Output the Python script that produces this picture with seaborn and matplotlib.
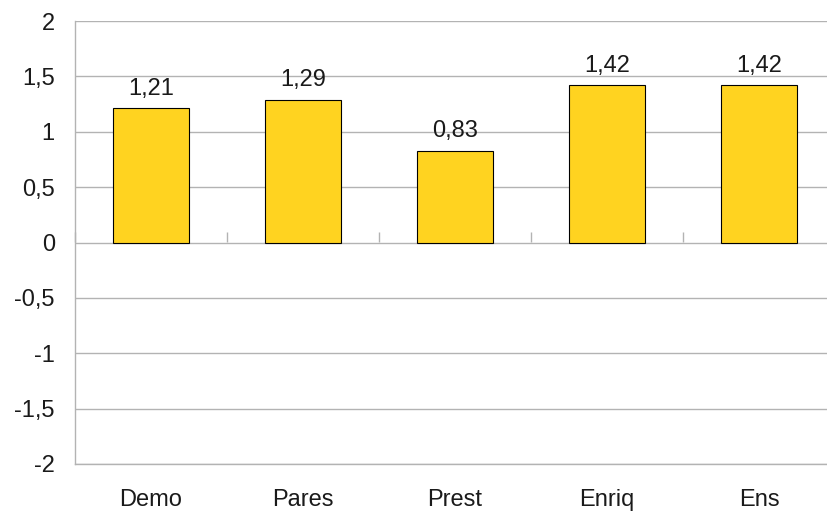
import matplotlib
matplotlib.use("Agg")
import matplotlib.pyplot as plt
import pandas as pd
import seaborn as sns

# --- Data ---------------------------------------------------------------------
categories = ["Demo", "Pares", "Prest", "Enriq", "Ens"]
values = [1.21, 1.29, 0.83, 1.42, 1.42]
y_ticks = [-2, -1.5, -1, -0.5, 0, 0.5, 1, 1.5, 2]

df = pd.DataFrame({"cat": categories, "val": values})


def comma(v):
    s = f"{v:g}"
    return s.replace(".", ",")


# --- Plot ---------------------------------------------------------------------
sns.set_style("white")
plt.rcParams["font.family"] = ["Liberation Sans", "DejaVu Sans"]

GRID = "#b3b3b3"
TXT = "#1a1a1a"
FS = 17

fig = plt.figure(figsize=(8.27, 5.15), dpi=100)
ax = fig.add_axes([75 / 827, 51 / 515, 760 / 827, 443 / 515])

sns.barplot(data=df, x="cat", y="val", color="#FFD320", saturation=1,
            edgecolor="#000000", linewidth=0.8, width=0.5, ax=ax, zorder=3)

ax.set_ylim(-2, 2)
ax.set_xlim(-0.5, len(categories) - 0.5)
ax.set_yticks(y_ticks)
ax.set_yticklabels([comma(t) for t in y_ticks], fontsize=FS, color=TXT)
ax.yaxis.grid(True, color=GRID, linewidth=1)
ax.set_axisbelow(True)

# category boundaries as major ticks, names as minor ticks
bounds = [i - 0.5 for i in range(len(categories) + 1)]
ax.set_xticks(bounds)
ax.set_xticklabels([])
ax.set_xticks(range(len(categories)), minor=True)
ax.set_xticklabels(categories, minor=True, fontsize=FS, color=TXT)
ax.tick_params(axis="x", which="major", length=8, color=GRID, width=1)
ax.tick_params(axis="x", which="minor", length=0, pad=18)
ax.tick_params(axis="y", length=8.5, color=GRID, width=1, pad=6)
ax.set_xlabel("")
ax.set_ylabel("")

for side in ["top", "right"]:
    ax.spines[side].set_visible(False)
for side in ["left", "bottom"]:
    ax.spines[side].set_color(GRID)
    ax.spines[side].set_linewidth(1)

# ticks on the zero line
sec = ax.secondary_xaxis(0.5)
sec.set_xticks(bounds)
sec.set_xticklabels([])
sec.tick_params(length=7, color=GRID, width=1)
for sp in sec.spines.values():
    sp.set_visible(False)

for cont in ax.containers:
    ax.bar_label(cont, labels=[comma(v) for v in values], padding=6,
                 fontsize=FS, color=TXT)

fig.savefig("out.png", dpi=100)
plt.close(fig)
